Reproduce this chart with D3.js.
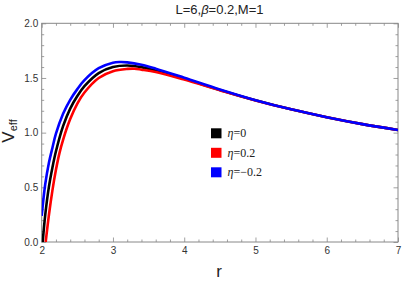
<!DOCTYPE html>
<html><head><meta charset="utf-8">
<script src="https://cdn.jsdelivr.net/npm/d3@7"></script>
<style>
body{margin:0;background:#fff;}
svg{display:block;}
.tick text{font-family:"Liberation Sans",Arial,sans-serif;font-size:10px;fill:#333;}
</style></head>
<body><svg id="c" width="402" height="282"></svg>
<script>
// ---- data ----
const rBlack = [2.014,2.05,2.1,2.15,2.2,2.3,2.4,2.5,2.6,2.8,3.0,3.2,3.4,3.6,4.0,4.5,5.0,5.5,6.0,6.5,7.0];
const vBlack = [0,0.25,0.50,0.68,0.83,1.06,1.22,1.335,1.425,1.545,1.600,1.614,1.599,1.567,1.493,1.391,1.296,1.213,1.141,1.078,1.024];
const rRed   = [2.056,2.1,2.15,2.2,2.25,2.3,2.4,2.5,2.6,2.8,3.0,3.2,3.3,3.4,3.6,4.0,4.5,5.0,5.5,6.0,6.5,7.0];
const vRed   = [0,0.24,0.47,0.66,0.815,0.935,1.124,1.266,1.367,1.500,1.562,1.583,1.585,1.576,1.554,1.485,1.388,1.295,1.213,1.141,1.078,1.024];
const rBlue  = [2.0,2.05,2.1,2.15,2.2,2.3,2.4,2.5,2.6,2.8,3.0,3.1,3.2,3.4,3.6,4.0,4.5,5.0,5.5,6.0,6.5,7.0];
const vBlue  = [0.24,0.53,0.72,0.86,0.99,1.172,1.30,1.398,1.48,1.589,1.640,1.646,1.643,1.621,1.585,1.502,1.395,1.297,1.213,1.141,1.078,1.024];
const seriesNames = ["η=0","η=0.2","η=−0.2"];
const xMajor = [2,3,4,5,6,7];
const yMajor = [0,0.5,1.0,1.5,2.0];
const yLabels = ["0.0","0.5","1.0","1.5","2.0"];
const titleText = "L=6,β=0.2,M=1";

const series = [
  {r:rBlack, v:vBlack, color:"#000000", name:seriesNames[0]},
  {r:rRed,   v:vRed,   color:"#ff0000", name:seriesNames[1]},
  {r:rBlue,  v:vBlue,  color:"#0000ff", name:seriesNames[2]}
];

const svg = d3.select("#c");
const L=41.7, R=398, T=23.3, B=242;
const x = d3.scaleLinear().domain([2,7]).range([L,R]);
const y = d3.scaleLinear().domain([0,2]).range([B,T]);

const xMinor = d3.range(2,7.0001,0.2).map(d=>+d.toFixed(2)).filter(d=>!xMajor.includes(d));
const yMinor = d3.range(0,2.0001,0.1).map(d=>+d.toFixed(2)).filter(d=>!yMajor.includes(d));

svg.append("defs").append("clipPath").attr("id","clip")
  .append("rect").attr("x",L).attr("y",T).attr("width",R-L).attr("height",B-T);

const axColor="#888";
function styleAxis(g){
  g.select(".domain").remove();
  g.selectAll(".tick line").attr("stroke",axColor).attr("stroke-width",0.8);
}
// bottom
svg.append("g").attr("transform",`translate(0,${B})`)
  .call(d3.axisBottom(x).tickValues(xMajor).tickSize(-4.5).tickPadding(5).tickFormat(d3.format("d"))).call(styleAxis);
svg.append("g").attr("transform",`translate(0,${B})`)
  .call(d3.axisBottom(x).tickValues(xMinor).tickSize(-2.5).tickFormat("")).call(styleAxis);
// top
svg.append("g").attr("transform",`translate(0,${T})`)
  .call(d3.axisTop(x).tickValues(xMajor).tickSize(-4.5).tickFormat("")).call(styleAxis);
svg.append("g").attr("transform",`translate(0,${T})`)
  .call(d3.axisTop(x).tickValues(xMinor).tickSize(-2.5).tickFormat("")).call(styleAxis);
// left
svg.append("g").attr("transform",`translate(${L},0)`)
  .call(d3.axisLeft(y).tickValues(yMajor).tickSize(-4.5).tickPadding(3.5).tickFormat((d,i)=>yLabels[i])).call(styleAxis);
svg.append("g").attr("transform",`translate(${L},0)`)
  .call(d3.axisLeft(y).tickValues(yMinor).tickSize(-2.5).tickFormat("")).call(styleAxis);
// right
svg.append("g").attr("transform",`translate(${R},0)`)
  .call(d3.axisRight(y).tickValues(yMajor).tickSize(-4.5).tickFormat("")).call(styleAxis);
svg.append("g").attr("transform",`translate(${R},0)`)
  .call(d3.axisRight(y).tickValues(yMinor).tickSize(-2.5).tickFormat("")).call(styleAxis);

// frame
svg.append("rect").attr("x",L).attr("y",T).attr("width",R-L).attr("height",B-T)
  .attr("fill","none").attr("stroke",axColor).attr("stroke-width",1);

// curves
const line = d3.line().x(d=>x(d[0])).y(d=>y(d[1])).curve(d3.curveCatmullRom.alpha(0.5));
const cg = svg.append("g").attr("clip-path","url(#clip)");
series.forEach(s=>{
  const pts = s.r.map((r,i)=>[r,s.v[i]]);
  cg.append("path").datum(pts).attr("d",line)
    .attr("fill","none").attr("stroke",s.color).attr("stroke-width",2.6)
    .attr("stroke-linejoin","round");
});

// legend
const lg = svg.append("g");
series.forEach((s,i)=>{
  const yy = 128.3 + i*19.5;
  lg.append("rect").attr("x",211).attr("y",yy).attr("width",10.5).attr("height",10)
    .attr("fill",s.color);
  const t = lg.append("text").attr("x",227.5).attr("y",yy+9)
    .attr("font-family","'Liberation Serif','Times New Roman',serif").attr("font-size",12).attr("fill","#222");
  t.append("tspan").attr("font-style","italic").text(s.name.slice(0,1));
  t.append("tspan").text(s.name.slice(1));
});

// title
const tt = svg.append("text").attr("x",219.5).attr("y",14).attr("text-anchor","middle")
  .attr("font-family","'Liberation Sans',Arial,sans-serif").attr("font-size",13).attr("fill","#222");
const parts = titleText.split("β");
tt.append("tspan").text(parts[0]);
tt.append("tspan").attr("font-style","italic").text("β");
tt.append("tspan").text(parts[1]);

// axis labels
svg.append("text").attr("x",219).attr("y",277).attr("text-anchor","middle")
  .attr("font-family","'Liberation Sans',Arial,sans-serif").attr("font-size",17).attr("fill","#222").text("r");
const yl = svg.append("text").attr("transform","translate(14,131) rotate(-90)").attr("text-anchor","middle")
  .attr("font-family","'Liberation Sans',Arial,sans-serif").attr("font-size",17).attr("fill","#222");
yl.append("tspan").text("V");
yl.append("tspan").attr("font-size",11).attr("dy",3).text("eff");
</script></body></html>
